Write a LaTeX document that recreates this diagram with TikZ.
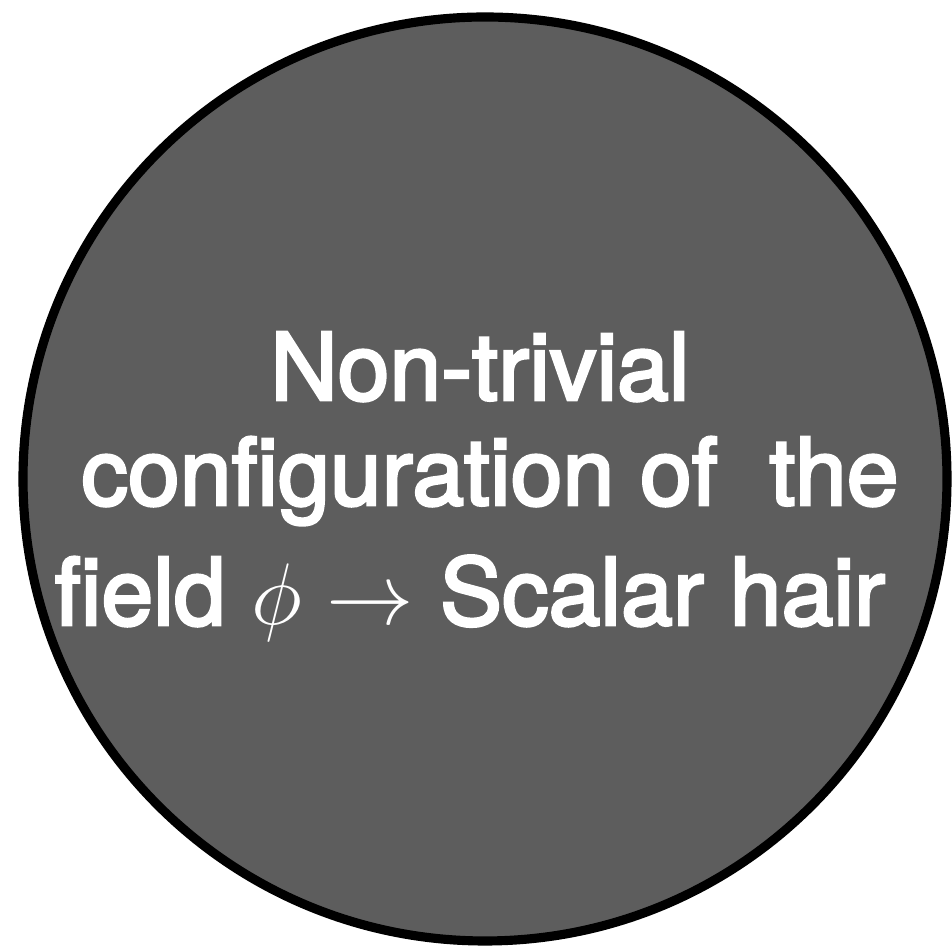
\documentclass[tikz,border=0pt]{standalone}
\usepackage{fontspec}
\setmainfont{TeX Gyre Heros}
\newfontfamily\hairfont[FakeBold=3]{TeX Gyre Heros}
\usepackage{amsmath}
\usepackage{xcolor}
\usepackage{tikz}
\usetikzlibrary{positioning}

\definecolor{hairgray}{RGB}{93,93,93}

\begin{document}
\begin{tikzpicture}[
    ball/.style={draw=black, line width=2.6pt, fill=hairgray, circle, minimum size=9.24cm, inner sep=0pt},
    caption/.style={anchor=base, inner sep=0pt, text=white, font=\fontsize{26.5}{31}\selectfont\hairfont}
]
    % canvas
    \useasboundingbox (0,0) rectangle (9.52,9.50);

    % scalar field ball
    \node[ball] (ball) at (4.85,4.71) {};

    % caption inside, one node per line
    \node[caption] (nontrivial) at (4.80,5.50) {Non-trivial};
    \node[caption] (config) at (4.90,4.45) {configuration of\ \ the};
    \node[caption] (field) at (4.70,3.25) {field $\phi\rightarrow$ Scalar hair};

\end{tikzpicture}
\end{document}
